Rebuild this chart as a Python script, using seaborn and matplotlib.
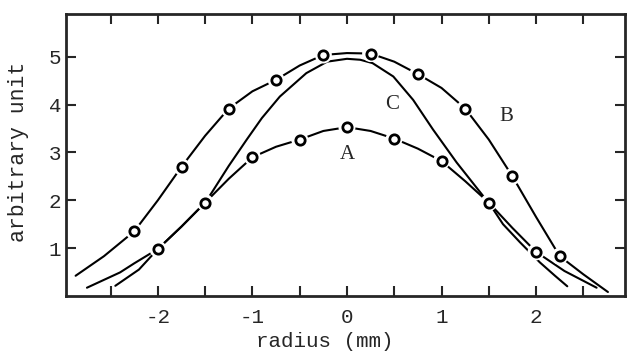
import numpy as np
import pandas as pd
import matplotlib
matplotlib.use("Agg")
import matplotlib.pyplot as plt
import seaborn as sns

# measured points (circles)
a_x = [-2.0, -1.5, -1.0, -0.5, 0.0, 0.5, 1.0, 1.5, 2.0]
a_y = [0.98, 1.95, 2.90, 3.27, 3.53, 3.29, 2.82, 1.95, 0.92]
b_x = [-2.25, -1.75, -1.25, -0.75, -0.25, 0.25, 0.75, 1.25, 1.75, 2.25]
b_y = [1.35, 2.70, 3.92, 4.52, 5.04, 5.07, 4.64, 3.92, 2.50, 0.83]

# curves
a_line_x = [-2.75, -2.4, -2.25, -2.0, -1.75, -1.5, -1.25, -1.0, -0.75, -0.5, -0.25, 0.0,
            0.25, 0.5, 0.75, 1.0, 1.25, 1.5, 1.75, 2.0, 2.3, 2.64]
a_line_y = [0.17, 0.49, 0.68, 0.98, 1.45, 1.95, 2.45, 2.90, 3.12, 3.27, 3.45, 3.53,
            3.45, 3.29, 3.08, 2.82, 2.40, 1.95, 1.42, 0.92, 0.52, 0.17]
b_line_x = [-2.87, -2.57, -2.25, -2.0, -1.75, -1.5, -1.25, -1.0, -0.75, -0.5, -0.25, 0.0,
            0.25, 0.5, 0.75, 1.0, 1.25, 1.5, 1.75, 2.0, 2.25, 2.5, 2.76]
b_line_y = [0.42, 0.83, 1.35, 2.00, 2.70, 3.35, 3.92, 4.28, 4.52, 4.82, 5.04, 5.08,
            5.07, 4.90, 4.64, 4.35, 3.92, 3.27, 2.50, 1.65, 0.83, 0.45, 0.08]
c_x = [-2.45, -2.2, -2.0, -1.75, -1.5, -1.43, -1.25, -1.06, -0.9, -0.71, -0.55, -0.43,
       -0.21, 0.0, 0.14, 0.27, 0.49, 0.70, 0.91, 1.16, 1.44, 1.51, 1.65, 1.83, 2.04, 2.2, 2.33]
c_y = [0.21, 0.55, 0.98, 1.45, 1.95, 2.16, 2.72, 3.27, 3.72, 4.17, 4.45, 4.66,
       4.90, 4.96, 4.94, 4.87, 4.59, 4.10, 3.48, 2.79, 2.09, 1.92, 1.50, 1.12, 0.70, 0.42, 0.20]

xticks = [-2, -1, 0, 1, 2]
xticklabels = ["-2", "-1", "0", "1", "2"]
yticks = [1, 2, 3, 4, 5]
labels = {"A": (0.0, 2.95), "B": (1.69, 3.75), "C": (0.48, 4.0)}

sns.set_style("ticks")
plt.rcParams["font.family"] = ["Liberation Mono", "DejaVu Sans Mono"]

fig = plt.figure(figsize=(6.3, 3.56), dpi=100)
ax = fig.add_axes([0.105, 0.169, 0.887, 0.792])

lw = 1.5
for lx, ly in [(a_line_x, a_line_y), (b_line_x, b_line_y), (c_x, c_y)]:
    sns.lineplot(data=pd.DataFrame({"x": lx, "y": ly}), x="x", y="y", sort=False,
                 color="black", linewidth=lw, ax=ax, estimator=None)

pts = pd.DataFrame({"x": a_x + b_x, "y": a_y + b_y})
# white halo to open a gap in the line around each circle
sns.scatterplot(data=pts, x="x", y="y", s=150, color="white", edgecolor="none", ax=ax, zorder=3)
sns.scatterplot(data=pts, x="x", y="y", s=45, facecolor="white", edgecolor="black",
                linewidth=2.0, ax=ax, zorder=4)

for name, (tx, ty) in labels.items():
    ax.text(tx, ty, name, ha="center", va="center", fontsize=15,
            family=["Liberation Serif", "DejaVu Serif"])

ax.set_xlim(-2.97, 2.94)
ax.set_ylim(0, 5.9)
ax.set_xticks(xticks)
ax.set_xticklabels(xticklabels)
ax.set_xticks(np.arange(-2.5, 3.0, 0.5), minor=True)
ax.set_yticks(yticks)
ax.tick_params(axis="both", which="both", direction="in", length=7, width=1.5,
               top=True, right=True, labelsize=15)
ax.tick_params(axis="x", pad=9)
for sp in ax.spines.values():
    sp.set_linewidth(2)
ax.set_xlabel("radius (mm)", fontsize=15)
ax.set_ylabel("arbitrary unit", fontsize=15.5)
ax.xaxis.set_label_coords(0.463, -0.13)
ax.yaxis.set_label_coords(-0.066, 0.51)

fig.savefig("out.png", dpi=100)
